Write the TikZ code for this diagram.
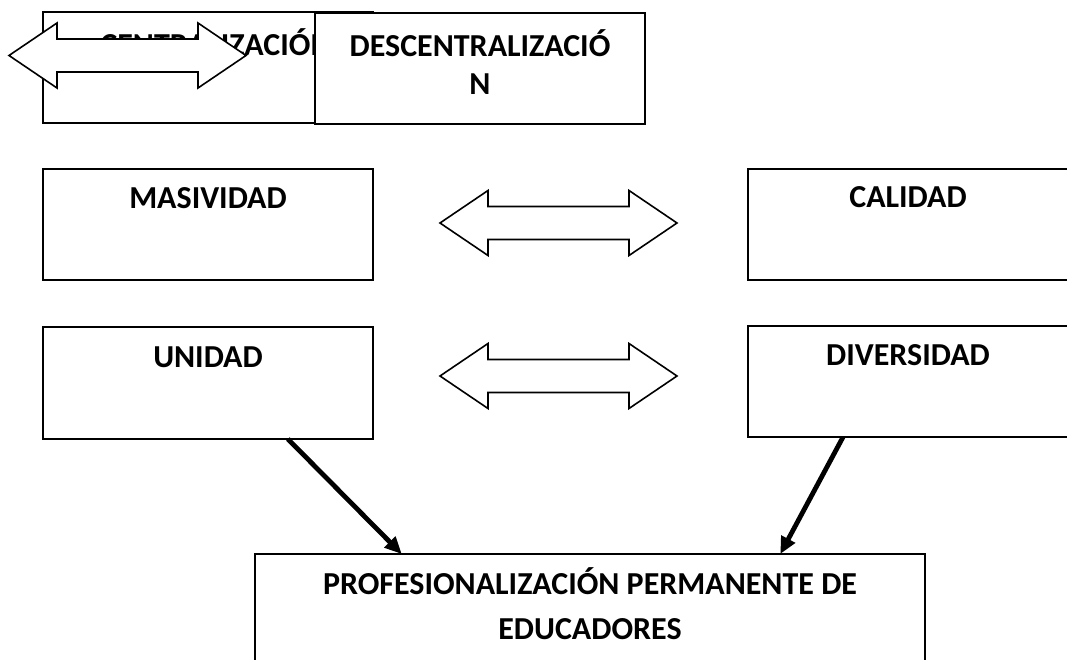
\documentclass[tikz,border=0pt]{standalone}
\usepackage{fontspec}
\setmainfont{Carlito}
\usetikzlibrary{arrows.meta,calc}
\begin{document}
\begin{tikzpicture}[x=1pt,y=-1pt,
  box/.style={draw,line width=1.8pt,fill=white,inner sep=0pt,outer sep=0pt,anchor=north west},
  lbl/.style={font=\fontsize{32}{38}\selectfont\bfseries,anchor=base,inner sep=0pt},
  dbl/.style={draw,line width=1.6pt,fill=white,line join=miter},
  conn/.style={line width=4.8pt,-{Triangle[length=17pt,width=15pt]}},
  dblarr/.pic={\draw[dbl] (0,0) -- (48,-32.5) -- (48,-16.5) -- (189,-16.5) -- (189,-32.5) -- (237,0) -- (189,32.5) -- (189,16.5) -- (48,16.5) -- (48,32.5) -- cycle;}]
\useasboundingbox (0,0) rectangle (1067,660);

% top row
\node[box,minimum width=330pt,minimum height=111pt] (cent) at (43,12) {};
\node[lbl] (tcent) at (216,56) {CENTRALIZACIÓN};
\pic at (9,55.5) {dblarr};
\node[box,minimum width=330pt,minimum height=111pt] (desc) at (315,13) {};
\node[lbl] (tdesc1) at (480,57) {DESCENTRALIZACIÓ};
\node[lbl] (tdesc2) at (480,95) {N};

% second row
\node[box,minimum width=330pt,minimum height=111pt] (masiv) at (43,169) {};
\node[lbl] (tmasiv) at (208,209) {MASIVIDAD};
\pic at (440,223) {dblarr};
\node[box,minimum width=320pt,minimum height=111pt] (calid) at (748,169) {};
\node[lbl] (tcalid) at (908,208) {CALIDAD};

% third row
\node[box,minimum width=330pt,minimum height=112pt] (unid) at (43,327) {};
\node[lbl] (tunid) at (208,367) {UNIDAD};
\pic at (440,376) {dblarr};
\node[box,minimum width=320pt,minimum height=111pt] (diver) at (748,326) {};
\node[lbl] (tdiver) at (908,365) {DIVERSIDAD};

% bottom
\node[box,minimum width=670pt,minimum height=130pt] (prof) at (255,554) {};
\node[lbl] (tprof1) at (590,594) {PROFESIONALIZACIÓN PERMANENTE DE};
\node[lbl] (tprof2) at (590,639) {EDUCADORES};

\draw[conn] ($(unid.south west)!0.742!(unid.south east)$) -- ($(prof.north west)!0.219!(prof.north east)$);
\draw[conn] ($(diver.south west)!0.297!(diver.south east)$) -- ($(prof.north west)!0.784!(prof.north east)$);
\end{tikzpicture}
\end{document}
